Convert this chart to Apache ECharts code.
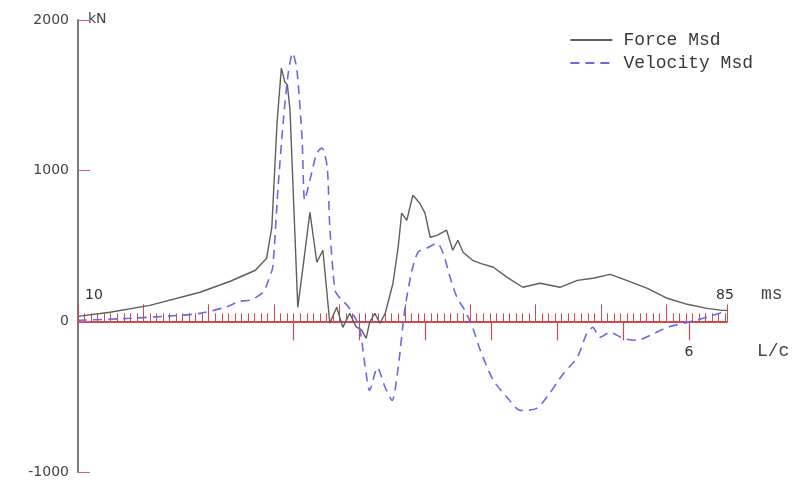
<!DOCTYPE html>
<html>
<head>
<meta charset="utf-8">
<script src="https://cdn.jsdelivr.net/npm/echarts@6/dist/echarts.min.js"></script>
<style>html,body{margin:0;padding:0;background:#fff;}#c{width:796px;height:487px;}</style>
</head>
<body>
<div id="c"></div>
<script>
// Force measured (kN) vs time (ms)
const forceTime = [10.0,13.7,18.3,24.1,27.6,30.5,31.8,32.4,33.0,33.5,33.9,34.2,34.5,35.4,36.1,36.8,37.6,38.3,39.1,39.9,40.6,41.4,42.1,42.8,43.3,43.7,44.3,44.9,45.5,46.4,47.0,47.4,48.0,48.7,49.5,50.1,50.7,51.5,52.6,53.3,53.9,54.5,55.6,56.5,58.0,59.6,61.4,63.4,65.7,67.7,69.5,71.5,73.4,75.8,78.1,80.4,82.7,84.5,85.0];
const forceKN = [33,60,106,193,266,339,419,625,1316,1681,1588,1568,1402,93,405,724,392,472,-13,93,-40,53,-33,-60,-113,-7,53,-13,53,253,492,718,671,837,784,718,558,571,605,472,538,459,405,385,359,292,226,253,226,272,286,312,272,219,153,113,86,73,73];
// Velocity measured (x impedance, kN) vs time (ms)
const velTime = [10.0,16.0,21.8,24.1,27.0,28.7,29.9,31.4,32.0,32.5,33.1,33.7,34.3,34.8,35.3,35.9,36.2,36.8,37.6,38.2,38.8,39.1,39.7,40.3,41.1,42.0,42.6,43.2,43.7,44.6,45.5,46.3,47.0,47.8,48.6,49.3,50.3,51.5,52.2,53.0,53.8,54.7,55.6,56.5,58.0,59.6,61.1,63.0,64.5,66.1,67.7,68.8,69.5,70.3,71.5,73.0,74.6,76.1,78.1,80.4,82.7,84.5,85.0];
const velKN = [7,20,40,53,93,133,140,193,272,359,871,1316,1648,1781,1668,1203,804,937,1116,1150,1023,625,206,153,106,27,-60,-306,-459,-306,-439,-525,-306,93,339,459,485,518,452,292,159,73,-40,-193,-392,-505,-591,-578,-478,-346,-239,-80,-40,-106,-73,-113,-126,-93,-40,-7,27,60,66];

const seriesNames = ['Force Msd', 'Velocity Msd'];
const timeRange = [10, 85];
const forceRange = [-1000, 2000];
const lcRange = [0, 6];
const lcLabels = ['6'];
const timeEndLabels = ['10', '85'];

const RED = '#d2484f';
const chart = echarts.init(document.getElementById('c'), null, {renderer: 'canvas'});
const zip = (a, b) => a.map((v, i) => [v, b[i]]);
// tick-scale grids end exactly on the zero line of the main grid
const mainTop = 20, mainBottom = 15, H = 487;
const zeroBottom = mainBottom + (H - mainTop - mainBottom) * (0 - forceRange[0]) / (forceRange[1] - forceRange[0]);
const hiddenY = (gi) => ({type: 'value', gridIndex: gi, min: 0, max: 1, show: false});

chart.setOption({
  animation: false,
  backgroundColor: '#fff',
  grid: [
    {left: 78, right: 69, top: mainTop, bottom: mainBottom},
    {left: 78, right: 69, top: mainTop, bottom: zeroBottom},
    {left: 293, right: 107, top: mainTop, bottom: zeroBottom}
  ],
  xAxis: [
    {
      type: 'value', gridIndex: 0, min: timeRange[0], max: timeRange[1],
      axisLine: {onZero: true, lineStyle: {color: RED, width: 2}},
      axisTick: {show: false}, axisLabel: {show: false}, splitLine: {show: false}
    },
    {
      type: 'value', gridIndex: 1, min: 0, max: 9.93, interval: 1, position: 'bottom',
      axisLine: {show: false, onZero: false, lineStyle: {color: RED}},
      axisTick: {show: true, inside: true, length: 17, lineStyle: {color: RED, width: 1}},
      minorTick: {show: true, splitNumber: 10, length: 8, lineStyle: {color: RED, width: 1}},
      axisLabel: {show: false}, splitLine: {show: false}
    },
    {
      type: 'value', gridIndex: 2, min: lcRange[0], max: lcRange[1], interval: 1, position: 'bottom',
      axisLine: {show: false, onZero: false, lineStyle: {color: RED}},
      axisTick: {show: true, inside: false, length: 19, lineStyle: {color: RED, width: 1.2}},
      axisLabel: {
        show: true, margin: 24, color: '#333', fontSize: 14, fontFamily: 'DejaVu Sans',
        formatter: (v) => lcLabels.indexOf(String(v)) >= 0 ? String(v) : ''
      },
      splitLine: {show: false}
    }
  ],
  yAxis: [
    {
      type: 'value', gridIndex: 0, min: forceRange[0], max: forceRange[1], interval: 1000,
      axisLine: {show: true, onZero: false, lineStyle: {color: '#7a7a7a', width: 2}},
      axisTick: {show: true, inside: true, length: 12, lineStyle: {color: '#e0606a', width: 1}},
      axisLabel: {color: '#444', fontSize: 14, fontFamily: 'DejaVu Sans', margin: 9, formatter: (v) => String(v)},
      splitLine: {show: false}
    },
    hiddenY(1),
    hiddenY(2)
  ],
  legend: {
    orient: 'vertical', right: 38, top: 25, itemWidth: 42, itemHeight: 12, itemGap: 3,
    itemStyle: {opacity: 0},
    textStyle: {fontFamily: 'Liberation Mono', fontSize: 18, lineHeight: 20, color: '#3a3a3a', padding: [0, 0, 0, 6]},
    data: seriesNames
  },
  graphic: [
    {type: 'text', left: 88, top: 12, style: {text: 'kN', fill: '#444', font: '14px "DejaVu Sans"'}},
    {type: 'text', left: 85, top: 288, style: {text: timeEndLabels[0], fill: '#333', font: '14px "DejaVu Sans"'}},
    {type: 'text', left: 716, top: 288, style: {text: timeEndLabels[1], fill: '#333', font: '14px "DejaVu Sans"'}},
    {type: 'text', left: 761, top: 285, style: {text: 'ms', fill: '#444', font: '18px "Liberation Mono"'}},
    {type: 'text', left: 757, top: 342, style: {text: 'L/c', fill: '#444', font: '18px "Liberation Mono"'}}
  ],
  series: [
    {
      name: seriesNames[0], type: 'line', xAxisIndex: 0, yAxisIndex: 0,
      data: zip(forceTime, forceKN), symbol: 'none', showSymbol: false,
      lineStyle: {color: '#5e5e5e', width: 1.4}, itemStyle: {color: '#5e5e5e'}, z: 3
    },
    {
      name: seriesNames[1], type: 'line', xAxisIndex: 0, yAxisIndex: 0,
      data: zip(velTime, velKN), symbol: 'none', showSymbol: false, smooth: 0.25,
      lineStyle: {color: '#6a6ae8', width: 1.6, type: [9, 6]}, itemStyle: {color: '#6a6ae8'}, z: 4
    }
  ]
});
</script>
</body>
</html>
